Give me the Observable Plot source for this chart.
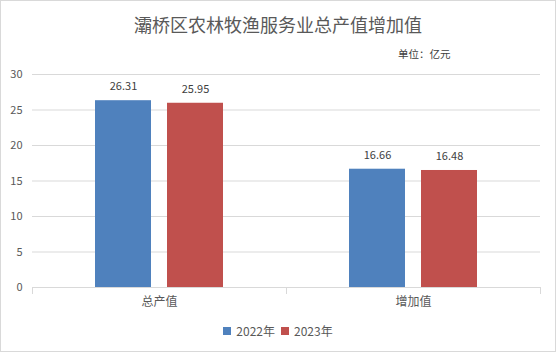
<!DOCTYPE html>
<html><head><meta charset="utf-8">
<script src="https://cdn.jsdelivr.net/npm/d3@7"></script>
<script src="https://cdn.jsdelivr.net/npm/@observablehq/plot@0.6"></script>
<style>
body{margin:0;background:#fff;}
#wrap{position:relative;width:556px;height:352px;font-family:"Noto Sans CJK SC","Noto Sans",sans-serif;overflow:hidden;}
#chart{position:absolute;left:0;top:0;}
#border{position:absolute;left:0;top:0;width:556px;height:352px;box-sizing:border-box;border:1px solid #d9d9d9;pointer-events:none;}
#title{position:absolute;left:0;width:556px;top:11px;text-align:center;font-size:18px;color:#595959;line-height:26px;}
#unit{position:absolute;left:398px;top:46px;font-size:10.5px;color:#404040;line-height:16px;}
#legend{position:absolute;left:0;width:556px;top:322px;display:flex;justify-content:center;align-items:center;font-size:12px;color:#595959;line-height:18px;}
.sw{display:inline-block;width:8px;height:8px;margin-right:5px;}
.item{display:flex;align-items:center;margin:0 3px;}
</style></head>
<body>
<div id="wrap">
  <div id="chart"></div>
  <div id="title">灞桥区农林牧渔服务业总产值增加值</div>
  <div id="unit">单位：亿元</div>
  <div id="legend"></div>
  <div id="border"></div>
</div>
<script>
const categories = ["总产值", "增加值"];
const years = ["2022年", "2023年"];
const values2022 = [26.31, 16.66];
const values2023 = [25.95, 16.48];
const yTicks = [0, 5, 10, 15, 20, 25, 30];
const colors = ["#4f81bd", "#c0504d"];

const data = [];
categories.forEach((c, i) => {
  data.push({category: c, year: years[0], value: values2022[i]});
  data.push({category: c, year: years[1], value: values2023[i]});
});

const chart = Plot.plot({
  width: 556,
  height: 352,
  marginTop: 74,
  marginBottom: 65,
  marginLeft: 31,
  marginRight: 16,
  style: {fontFamily: '"Noto Sans CJK SC","Noto Sans",sans-serif', background: "transparent"},
  fx: {domain: categories, padding: 0, label: null},
  x: {domain: years, paddingInner: 0.219, paddingOuter: 0.856, axis: null},
  y: {domain: [0, 30], label: null},
  color: {domain: years, range: colors},
  marks: [
    Plot.gridY(yTicks, {stroke: "#d9d9d9", strokeOpacity: 1}),
    Plot.axisY(yTicks, {tickSize: 0, tickPadding: 10, fontSize: 11, fill: "#595959", label: null}),
    Plot.axisFx({anchor: "bottom", tickSize: 0, tickPadding: 10, fontSize: 12, fill: "#595959", label: null}),
    Plot.barY(data, {fx: "category", x: "year", y: "value", fill: "year"}),
    Plot.text(data, {fx: "category", x: "year", y: "value", text: d => d.value.toFixed(2), dy: -14, fontSize: 11, fill: "#404040"}),
    Plot.ruleY([0], {stroke: "#d9d9d9"}),
    Plot.frame({anchor: "left", stroke: "#d9d9d9", insetTop: 213, insetBottom: -6}),
    Plot.frame({anchor: "right", stroke: "#d9d9d9", insetTop: 213, insetBottom: -6})
  ]
});
document.getElementById("chart").appendChild(chart);

const legend = document.getElementById("legend");
years.forEach((y, i) => {
  const it = document.createElement("span");
  it.className = "item";
  it.innerHTML = `<span class="sw" style="background:${colors[i]}"></span>${y}`;
  legend.appendChild(it);
});
</script>
</body></html>
